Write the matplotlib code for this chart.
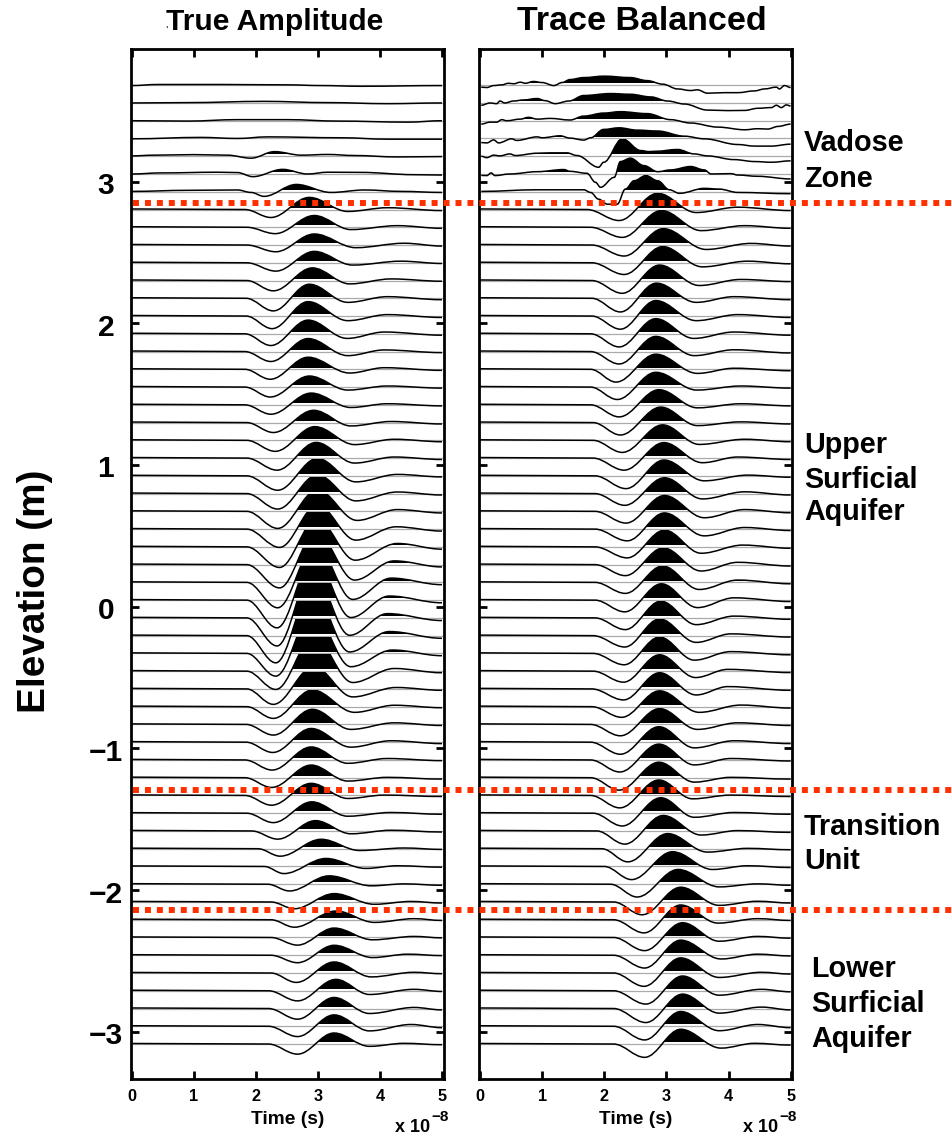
#!/usr/bin/env python3
# wiggle plot of the two GPR gathers, filled on the positive side
import matplotlib
matplotlib.use("Agg")
import matplotlib.pyplot as plt
from matplotlib.patches import PathPatch, Rectangle
from matplotlib.path import Path
from matplotlib.transforms import ScaledTranslation

plt.rcParams['font.family'] = ['Liberation Sans', 'DejaVu Sans']
plt.rcParams['font.weight'] = 'bold'

W, H = 953, 1137

# elevation of first trace and trace spacing (m)
first_elev = 3.68
spacing = 0.1253
n_traces = 55
clip_amp = 0.95   # amplitudes are in trace spacings
fill_from = 0.10  # fill only starts a bit above zero
red_elevs = [2.847, -1.294, -2.141]
elev_ticks = [-3, -2, -1, 0, 1, 2, 3]
time_ticks = [0, 1, 2, 3, 4, 5]

# --- True Amplitude: first seven traces, picked by hand
left_top_t = [
    [0, .41, 1.44, 2.51, 3.05, 3.69, 5],
    [0, .9, 2.13, 3.16, 4.12, 5],
    [0, .9, 1.7, 2.51, 3.32, 4.45, 5],
    [0, 1.11, 1.7, 2.19, 3.37, 4.12, 5],
    [0, .36, 1.0, 1.54, 1.92, 2.3, 2.73, 3.16, 3.59, 4.28, 5],
    [0, .47, 1.38, 1.7, 1.95, 2.43, 2.83, 3.16, 3.69, 4.55, 5],
    [0, .9, 1.7, 1.92, 2.13, 2.65, 3.21, 3.75, 4.34, 5],
]
left_top_a = [
    [-.02, .04, .04, .02, -.02, -.06, -.02],
    [0, .02, .09, .02, -.04, 0],
    [0, -.02, .06, .06, -.02, -.08, 0],
    [-.02, .06, 0, .09, .04, -.04, -.04],
    [.02, .06, .09, .06, -.11, .26, .06, .1, .04, -.04, -.02],
    [0, .06, .1, .08, -.15, .26, 0, .1, .09, -.04, -.06],
    [.02, .08, .1, -.04, -.26, .41, -.04, .1, .02, -.04],
]

# --- True Amplitude: traces 7..54, onset / trough / peak / trough / side lobe / end
left_t0 = [1.82, 1.85, 1.85, 1.85, 1.85, 1.84, 1.84, 1.82, 1.82, 1.82, 1.82, 1.82,
           1.85, 1.85, 1.85, 1.85, 1.85, 1.85, 1.85, 1.85, 1.85, 1.85, 1.85, 1.85,
           1.85, 1.85, 1.85, 1.85, 1.85, 1.84, 1.84, 1.82, 1.82, 1.82, 1.85,
           1.93, 2.03, 2.13, 2.19, 2.24, 2.24, 2.24, 2.24, 2.24, 2.2, 2.2, 2.2, 2.2]
left_t1 = [2.24, 2.31, 2.32, 2.32, 2.28, 2.28, 2.26, 2.24, 2.24, 2.23, 2.23, 2.24,
           2.28, 2.31, 2.34, 2.35, 2.35, 2.35, 2.38, 2.38, 2.38, 2.35, 2.34, 2.34,
           2.32, 2.32, 2.32, 2.28, 2.28, 2.28, 2.27, 2.26, 2.25, 2.25, 2.28, 2.35,
           2.39, 2.45, 2.54, 2.62, 2.62, 2.67, 2.67, 2.65, 2.67, 2.67, 2.67, 2.67]
left_a1 = [-.45, -.36, -.38, -.47, -.58, -.71, -.71, -.66, -.56, -.56, -.56, -.53,
           -.56, -.62, -.68, -.81, -.87, -.96, -1.03, -1.16, -1.31, -1.43, -1.56, -1.58,
           -1.53, -1.28, -1.03, -.87, -.66, -.6, -.58, -.57, -.55, -.55, -.53, -.46,
           -.42, -.4, -.38, -.38, -.42, -.43, -.42, -.53, -.57, -.6, -.58, -.57]
left_t2 = [2.86, 2.94, 2.94, 2.94, 2.91, 2.86, 2.84, 2.84, 2.84, 2.84, 2.86, 2.89,
           2.93, 2.95, 2.97, 2.99, 2.99, 2.99, 2.99, 2.98, 2.97, 2.96, 2.93, 2.91,
           2.90, 2.91, 2.93, 2.93, 2.91, 2.91, 2.89, 2.89, 2.89, 2.89, 2.90, 2.96,
           3.05, 3.13, 3.18, 3.26, 3.29, 3.26, 3.26, 3.26, 3.29, 3.26, 3.26, 3.26]
left_a2 = [.68, .66, .62, .64, .71, .79, .81, .77, .73, .68, .62, .66,
           .69, .77, .88, .98, 1.05, 1.2, 1.35, 1.55, 1.8, 2.1, 2.4, 2.6,
           2.6, 2.3, 1.9, 1.25, .94, .85, .77, .73, .71, .68, .64, .58,
           .53, .45, .47, .47, .49, .53, .56, .62, .64, .62, .64, .62]
left_t3 = [3.48, 3.53, 3.61, 3.56, 3.51, 3.48, 3.48, 3.47, 3.48, 3.51, 3.48, 3.53,
           3.53, 3.59, 3.59, 3.61, 3.61, 3.63, 3.61, 3.6, 3.59, 3.56, 3.53, 3.51,
           3.51, 3.53, 3.56, 3.56, 3.59, 3.53, 3.53, 3.48, 3.48, 3.48, 3.48, 3.53,
           3.67, 3.77, 3.86, 3.91, 3.91, 3.88, 3.88, 3.86, 3.83, 3.83, 3.83, 3.83]
left_a3 = [-.11, -.13, -.15, -.13, -.19, -.23, -.26, -.26, -.23, -.21, -.17, -.15,
           -.19, -.24, -.28, -.34, -.41, -.51, -.62, -.75, -.87, -.96, -.98, -.98,
           -.92, -.75, -.64, -.45, -.32, -.28, -.28, -.19, -.19, -.17, -.17, -.16,
           -.1, -.11, -.09, -.13, -.15, -.13, -.13, -.22, -.21, -.28, -.26, -.13]
left_t4 = [4.12, 4.28, 4.39, 4.34, 4.18, 4.12, 4.12, 4.07, 4.07, 4.07, 4.12, 4.12,
           4.18, 4.23, 4.23, 4.28, 4.28, 4.28, 4.26, 4.28, 4.23, 4.18, 4.15, 4.12,
           4.15, 4.2, 4.23, 4.26, 4.23, 4.23, 4.18, 4.12, 4.12, 4.07, 4.18, 4.18,
           4.39, 4.28, 4.39, 4.5, 4.55, 4.55, 4.45, 4.55, 4.55, 4.55, 4.5, 4.39]
left_a4 = [.1, .09, .1, .09, .09, .09, .08, .1, .09, .09, .06, .06,
           .06, .06, .06, .08, .09, .1, .13, .19, .21, .24, .23, .24,
           .23, .19, .15, .08, .08, .09, .08, .08, .02, .02, .04, .04,
           .04, .04, .02, .03, .06, .06, .06, .04, .08, .06, .1, .04]
left_end = [-.06, -.06, -.06, -.04, -.04, -.08, -.08, -.08, -.06, -.06, -.06, -.06,
            -.08, -.08, -.08, -.06, -.08, -.09, -.11, -.13, -.13, -.13, -.15, -.15,
            -.15, -.13, -.09, -.08, -.06, -.06, -.08, -.04, -.08, -.06, -.06, -.06,
            -.04, -.04, -.06, -.06, -.04, -.02, -.02, -.04, -.04, -.08, -.08, -.04]

# --- Trace Balanced: first seven traces are noisy, so more picks
right_top_t = [
    [.02, .11, .22, .35, .46, .54, .65, .73, .86, 1.0, 1.19, 1.32, 1.45, 1.67, 2.0, 2.42, 2.69,
     2.94, 3.18, 3.39, 3.5, 3.66, 3.93, 4.15, 4.42, 4.58, 4.77, 4.82, 4.9, 5.0],
    [.02, .16, .27, .32, .4, .54, .7, .92, 1.05, 1.21, 1.43, 1.67, 2.1, 2.42, 2.75, 3.02, 3.29,
     3.66, 3.99, 4.26, 4.47, 4.69, 4.77, 4.85, 4.93, 5.0],
    [.02, .16, .27, .35, .43, .65, .78, .92, 1.13, 1.45, 1.67, 1.99, 2.26, 2.69, 3.07, 3.39, 3.83,
     4.26, 4.47, 4.63, 4.8, 5.0],
    [.02, .11, .22, .3, .51, .59, .92, 1.0, 1.29, 1.45, 1.67, 1.78, 1.99, 2.24, 2.53, 2.86, 3.29,
     3.61, 4.15, 4.42, 4.69, 5.0],
    [.02, .11, .22, .32, .48, .57, .92, 1.13, 1.4, 1.56, 1.91, 1.99, 2.29, 2.59, 2.72, 2.83, 3.18,
     3.45, 3.66, 4.09, 4.42, 4.69, 5.0],
    [.02, .11, .18, .24, .48, .92, 1.35, 1.45, 1.72, 1.86, 1.94, 2.16, 2.26, 2.42, 2.64, 2.86,
     3.07, 3.39, 3.61, 3.72, 4.04, 4.15, 4.47, 5.0],
    [.02, .92, 1.67, 1.78, 1.91, 2.05, 2.21, 2.34, 2.48, 2.67, 2.86, 3.05, 3.21, 3.61, 3.85, 4.15, 5.0],
]
right_top_a = [
    [-.11, -.13, -.02, .02, .11, .08, .17, .11, .21, .15, -.02, .15, .32, .43, .51, .43, .26,
     .06, -.21, -.3, -.26, -.45, -.42, -.42, -.32, -.21, -.11, -.21, -.02, -.13],
    [-.13, 0, -.04, .11, 0, .11, .17, .25, .13, -.04, .11, .42, .53, .49, .34, .11, -.06,
     -.4, -.43, -.42, -.3, -.26, -.13, -.26, -.11, -.17],
    [-.19, -.08, -.08, .06, 0, .09, .19, .09, .13, .04, .26, .43, .51, .4, .06, -.13, -.36,
     -.51, -.45, -.47, -.32, -.19],
    [-.23, -.25, -.08, -.25, -.02, -.11, .09, .04, .15, .02, -.09, .04, .51, .6, .47, .42, .13,
     -.02, -.34, -.43, -.43, -.32],
    [0, -.08, .06, .02, .13, .04, .17, .19, .19, .04, -.62, -.34, .98, .32, .26, .28, .38,
     .13, .02, -.19, -.3, -.34, -.26],
    [-.08, -.09, .06, -.09, 0, .13, .25, .15, .04, -.47, -.75, -.19, .7, .89, .47, .13,
     .23, .42, .23, 0, .02, -.06, -.13, -.28],
    [.02, .11, .11, -.04, -.42, -.7, -.7, .15, .62, .91, .62, .11, -.09, .19, .15, -.04, -.11],
]

# --- Trace Balanced: traces 7..54
right_t0 = [1.72, 1.78, 1.8, 1.8, 1.8, 1.8, 1.8, 1.78, 1.78, 1.78, 1.78, 1.78,
            1.82, 1.82, 1.82, 1.85, 1.85, 1.85, 1.85, 1.85, 1.85, 1.85, 1.85, 1.85,
            1.82, 1.82, 1.82, 1.8, 1.8, 1.78, 1.78, 1.78, 1.78, 1.78, 1.82,
            1.88, 1.96, 2.0, 2.1, 2.15, 2.15, 2.15, 2.15, 2.15, 2.15, 2.15, 2.15, 2.15]
right_t1 = [2.24, 2.29, 2.32, 2.32, 2.29, 2.26, 2.26, 2.24, 2.24, 2.19, 2.21, 2.24,
            2.26, 2.29, 2.32, 2.35, 2.33, 2.35, 2.37, 2.37, 2.34, 2.34, 2.33, 2.34,
            2.33, 2.32, 2.31, 2.31, 2.28, 2.26, 2.26, 2.25, 2.24, 2.25, 2.29, 2.33,
            2.38, 2.44, 2.53, 2.61, 2.64, 2.65, 2.65, 2.64, 2.67, 2.67, 2.65, 2.65]
right_a1 = [-.62, -.57, -.62, -.66, -.72, -.77, -.74, -.74, -.7, -.72, -.7, -.68,
            -.7, -.68, -.68, -.72, -.66, -.66, -.66, -.62, -.62, -.62, -.66, -.66,
            -.64, -.64, -.62, -.62, -.6, -.64, -.68, -.68, -.7, -.7, -.72, -.74,
            -.74, -.74, -.72, -.72, -.74, -.74, -.72, -.75, -.75, -.79, -.77, -.75]
right_t2 = [2.86, 2.92, 2.95, 2.94, 2.89, 2.84, 2.83, 2.83, 2.83, 2.83, 2.83, 2.88,
            2.91, 2.94, 2.96, 2.96, 2.97, 2.97, 2.97, 2.97, 2.95, 2.94, 2.92, 2.91,
            2.89, 2.89, 2.89, 2.89, 2.89, 2.89, 2.88, 2.88, 2.88, 2.88, 2.91, 2.95,
            3.02, 3.10, 3.19, 3.23, 3.23, 3.26, 3.23, 3.23, 3.26, 3.26, 3.23, 3.23]
right_a2 = [.91, .94, .92, .91, .87, .85, .87, .85, .85, .85, .83, .85,
            .87, .87, .87, .89, .89, .89, .91, .94, .94, .92, .92, .94,
            .94, .92, .92, .91, .89, .89, .87, .89, .87, .87, .87, .87,
            .85, .83, .83, .83, .83, .83, .85, .85, .83, .81, .83, .83]
right_t3 = [3.48, 3.56, 3.64, 3.58, 3.53, 3.48, 3.48, 3.44, 3.45, 3.5, 3.49, 3.5,
            3.5, 3.53, 3.58, 3.61, 3.58, 3.61, 3.61, 3.56, 3.56, 3.53, 3.5, 3.48,
            3.48, 3.45, 3.47, 3.48, 3.53, 3.5, 3.45, 3.45, 3.45, 3.42, 3.45, 3.56,
            3.66, 3.74, 3.85, 3.85, 3.83, 3.85, 3.88, 3.85, 3.85, 3.85, 3.85, 3.88]
right_a3 = [-.17, -.19, -.25, -.23, -.28, -.23, -.26, -.26, -.23, -.23, -.17, -.17,
            -.17, -.23, -.26, -.28, -.3, -.36, -.38, -.36, -.36, -.4, -.42, -.38,
            -.38, -.38, -.36, -.34, -.32, -.28, -.32, -.28, -.25, -.19, -.23, -.23,
            -.19, -.17, -.15, -.19, -.19, -.21, -.21, -.25, -.25, -.26, -.25, -.23]
right_t4 = [4.15, 4.26, 4.36, 4.31, 4.2, 4.09, 4.15, 4.09, 4.09, 4.09, 4.2, 4.2,
            4.2, 4.26, 4.15, 4.31, 4.26, 4.26, 4.26, 4.23, 4.15, 4.15, 4.09, 4.09,
            4.04, 4.04, 3.99, 3.99, 4.2, 4.15, 4.09, 4.04, 4.04, 4.04, 4.09, 4.15,
            4.31, 4.31, 4.47, 4.47, 4.47, 4.47, 4.47, 4.53, 4.53, 4.53, 4.47, 4.42]
right_a4 = [.13, .09, .09, .09, .06, .09, .08, .1, .1, .06, .06, .06,
            .04, .06, .06, .04, .1, .1, .09, .1, .13, .13, .13, .1,
            .1, .1, .1, .13, .09, .09, .08, .08, .02, .02, .04, .02,
            .02, .04, .02, .04, .06, .06, .06, .04, .08, .08, .1, .04]
right_end = [-.06, -.06, -.06, -.06, -.06, -.08, -.08, -.08, -.08, -.08, -.06, -.06,
             -.08, -.08, -.08, -.08, -.08, -.08, -.08, -.08, -.08, -.08, -.08, -.08,
             -.08, -.08, -.08, -.08, -.08, -.06, -.08, -.06, -.08, -.06, -.06, -.08,
             -.06, -.06, -.06, -.06, -.04, -.04, -.04, -.06, -.06, -.08, -.08, -.06]


def draw_trace(ax, base, t, a):
    # smooth curve through the picks, flat tangent at each one
    verts = [(t[0], base + a[0] * spacing)]
    codes = [Path.MOVETO]
    for i in range(len(t) - 1):
        d = (t[i + 1] - t[i]) * 0.36
        y0 = base + a[i] * spacing
        y1 = base + a[i + 1] * spacing
        verts += [(t[i] + d, y0), (t[i + 1] - d, y1), (t[i + 1], y1)]
        codes += [Path.CURVE4] * 3

    ax.plot([0, 5], [base, base], color='#aaaaaa', lw=0.9, zorder=1)

    fill_path = Path(verts + [(t[-1], base), (t[0], base), (t[0], base)],
                     codes + [Path.LINETO, Path.LINETO, Path.CLOSEPOLY])
    fill = PathPatch(fill_path, facecolor='black', edgecolor='none', zorder=2)
    ax.add_patch(fill)
    fill.set_clip_path(Rectangle((0, base + fill_from * spacing), 5, (clip_amp - fill_from) * spacing,
                                 transform=ax.transData))

    line = PathPatch(Path(verts, codes), facecolor='none', edgecolor='black', lw=1.1, zorder=3)
    ax.add_patch(line)
    top = base + clip_amp * spacing
    line.set_clip_path(Rectangle((-1, -10), 7, top + 10, transform=ax.transData))


def draw_panel(ax, top_t, top_a, t0, t1, a1, t2, a2, t3, a3, t4, a4, end):
    for n in range(n_traces):
        base = first_elev - n * spacing
        if n < 7:
            draw_trace(ax, base, top_t[n], top_a[n])
        else:
            i = n - 7
            t = [0, t0[i], t1[i], t2[i], t3[i], t4[i], 5]
            a = [.03, 0, a1[i], a2[i], a3[i], a4[i], end[i]]
            draw_trace(ax, base, t, a)


def px_axes(x0, x1, y0, y1):
    return [x0 / W, 1 - y1 / H, (x1 - x0) / W, (y1 - y0) / H]


fig = plt.figure(figsize=(W / 100, H / 100), dpi=100)
ax1 = fig.add_axes(px_axes(131, 443.5, 49.5, 1079))
ax2 = fig.add_axes(px_axes(478.5, 792.5, 49.5, 1079))

draw_panel(ax1, left_top_t, left_top_a, left_t0, left_t1, left_a1, left_t2, left_a2,
           left_t3, left_a3, left_t4, left_a4, left_end)
draw_panel(ax2, right_top_t, right_top_a, right_t0, right_t1, right_a1, right_t2, right_a2,
           right_t3, right_a3, right_t4, right_a4, right_end)

ax1.set_xlim(-0.016, 5.024)
ax2.set_xlim(-0.024, 5.03)
for ax in (ax1, ax2):
    ax.set_ylim(-3.333, 3.932)
    ax.set_xticks(time_ticks)
    ax.set_yticks(elev_ticks)
    ax.tick_params(direction='in', length=6, width=2, top=True, right=True)
    ax.tick_params(axis='x', labelsize=11.7, pad=7)
    for s in ax.spines.values():
        s.set_linewidth(2)
    ax.set_xlabel('Time (s)', fontsize=13.8, fontweight='bold', labelpad=5)

# labels are centred in a column left of the spine, and sit a little low
ax1.set_yticklabels(['\u22123', '\u22122', '\u22121', '0', '1', '2', '3'], fontsize=21.6)
ax1.tick_params(axis='y', pad=18)
for lab in ax1.get_yticklabels():
    lab.set_ha('center')
    lab.set_transform(lab.get_transform() + ScaledTranslation(0, -1.5 / 100, fig.dpi_scale_trans))
ax2.set_yticklabels([])

# red boundaries run out past the right panel to the figure edge
ax1.set_zorder(3)
for e in red_elevs:
    ax1.plot([0.016, 13.3], [e, e], color='#ff3000', lw=4.3, clip_on=False, zorder=5,
             linestyle=(0, (1, 1)), dash_capstyle='butt')
ax1.set_xlim(-0.016, 5.024)


def px_text(x, y, s, size, **kw):
    fig.text(x / W, 1 - y / H, s, fontsize=size, fontweight='bold', va='center', **kw)


px_text(275, 22, 'True Amplitude', 21.6, ha='center')
px_text(642, 22, 'Trace Balanced', 24.5, ha='center')
px_text(167, 25, ',', 6, ha='center')
px_text(35, 591, 'Elevation (m)', 27.9, ha='center', rotation=90)

for x, y, s in [(804, 143, 'Vadose'), (804, 179, 'Zone'),
                (804, 445, 'Upper'), (804, 480, 'Surficial'), (804, 512, 'Aquifer'),
                (804, 827, 'Transition'), (804, 861, 'Unit'),
                (811, 969, 'Lower'), (811, 1004, 'Surficial'), (811, 1039, 'Aquifer')]:
    px_text(x, y, s, 20.7, ha='left')

for x in (395, 743):
    px_text(x, 1127, 'x 10', 13, ha='left')
    px_text(x + 36, 1117, '\u22128', 11, ha='left')

fig.savefig('out.png', dpi=100)
